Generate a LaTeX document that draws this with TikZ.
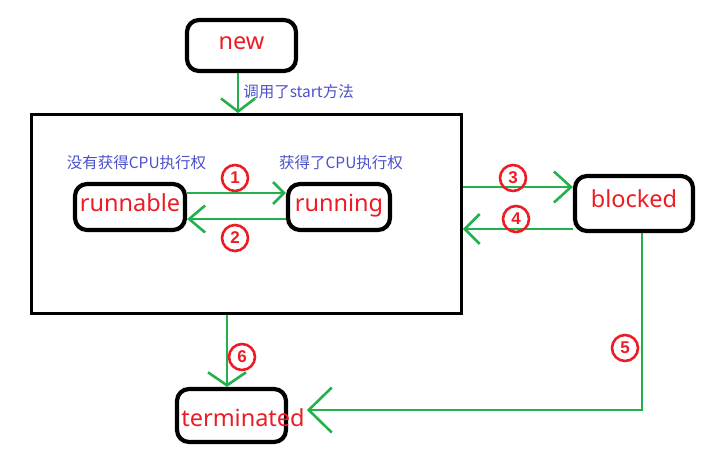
\documentclass[tikz,border=0pt]{standalone}
\usepackage{fontspec}
\setmainfont{Noto Sans}
\newfontfamily\cjk{Noto Sans CJK SC}
\newfontfamily\numfont{Liberation Sans}
\usetikzlibrary{arrows.meta}
\definecolor{pgreen}{HTML}{22B14C}
\definecolor{pred}{HTML}{ED1C24}
\definecolor{pblue}{HTML}{4B50CC}

\begin{document}
\begin{tikzpicture}[x=1pt, y=-1pt,
				state/.style={rectangle, rounded corners=12pt, draw=black, line width=4.2pt, inner sep=0pt, text=pred, font=\fontsize{23.5}{23.5}\selectfont, text height=1em, text depth=0.15em},
				statetext/.style={text=pred, font=\fontsize{23.5}{23.5}\selectfont, inner sep=0pt},
				note/.style={text=pblue, font=\cjk\fontsize{15.5}{15.5}\selectfont, inner sep=0pt},
				num/.style={circle, draw=pred, line width=2.6pt, text=pred, font=\numfont\bfseries\fontsize{17}{17}\selectfont, minimum size=26pt, inner sep=0pt},
				flow/.style={draw=pgreen, line width=2.6pt},
				vhead/.style 2 args={arrows={-{Straight Barb[length=#1, width=#2]}}}
			]
			\useasboundingbox (0,0) rectangle (710,450);
			\node[state, minimum width=109pt, minimum height=51pt] (new) at (241.5,45.5) {new};
			\node[draw=black, line width=2.8pt, minimum width=430pt, minimum height=199pt, inner sep=0pt] (alive) at (246.5,214) {};
			\node[state, minimum width=110pt, minimum height=46pt] (runnable) at (130,207) {runnable};
			\node[state, minimum width=102pt, minimum height=46pt] (running) at (339,207) {running};
			\node[state, minimum width=118pt, minimum height=55pt] (blocked) at (634,203.5) {blocked};
			\node[state, minimum width=109pt, minimum height=53pt] (terminated) at (231.5,415.5) {};
			\node[statetext] (termtext) at (243,418) {terminated};
			% notes
			\node[note] (start) at (298.5,92) {调用了start方法};
			\node[note] (nocpu) at (136.5,163) {没有获得CPU执行权};
			\node[note] (gotcpu) at (341,163) {获得了CPU执行权};
			% transitions
			\draw[flow, vhead={13pt}{34pt}] ([xshift=-3.5pt]new.south) -- ([xshift=-3.5pt]new.south |- alive.north);
			\draw[flow, vhead={11pt}{22pt}] ([yshift=14pt]runnable.east) -- ([yshift=14pt]running.west);
			\draw[flow, vhead={16pt}{27pt}] ([yshift=-12pt]running.west) -- ([yshift=-12pt]runnable.east);
			\draw[flow, vhead={17pt}{31pt}] ([yshift=16.5pt]blocked.west -| alive.east) -- ([yshift=16.5pt]blocked.west);
			\draw[flow, vhead={15pt}{30pt}] ([yshift=-25.5pt]blocked.west) -- ([yshift=-25.5pt]blocked.west -| alive.east);
			\draw[flow, vhead={23pt}{45pt}] ([xshift=8pt]blocked.south) |- ([xshift=2pt]termtext.east |- 0,410);
			\draw[flow, vhead={13pt}{38pt}] ([xshift=-4.5pt]terminated.north |- alive.south) -- ([xshift=-4.5pt]terminated.north);
			% numbers
			\node[num] (n1) at (235,178) {1};
			\node[num] (n2) at (235,238) {2};
			\node[num] (n3) at (513,178) {3};
			\node[num] (n4) at (516,219) {4};
			\node[num] (n5) at (625,348) {5};
			\node[num] (n6) at (242,357) {6};
\end{tikzpicture}
\end{document}
